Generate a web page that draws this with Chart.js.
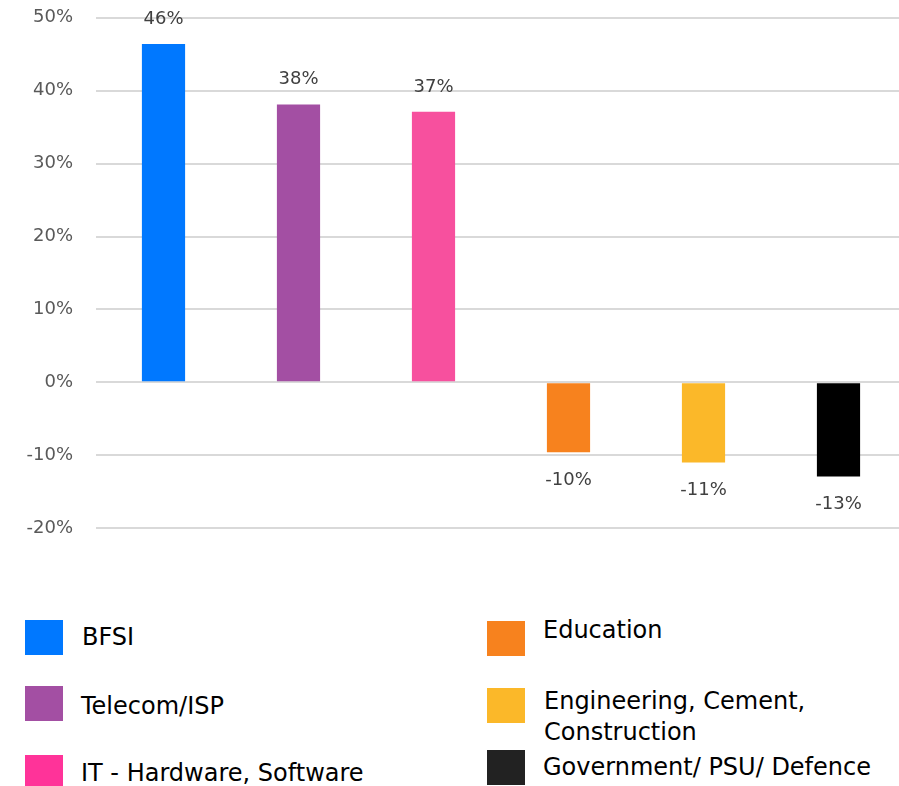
<!DOCTYPE html>
<html>
<head>
<meta charset="utf-8">
<script src="https://cdn.jsdelivr.net/npm/chart.js@4"></script>
<style>
    html, body { margin: 0; padding: 0; background: #fff; overflow: hidden; }
    #wrap { position: relative; width: 899px; height: 786px; overflow: hidden; }
    #chartBox { position: absolute; left: 0; top: -16px; width: 910px; height: 578px; }
    .leyenda { position: absolute; font-family: "DejaVu Sans", sans-serif; font-size: 24px; color: #000; line-height: 31px; }
    .leyenda .cuadro { position: absolute; left: 0; width: 38px; height: 35px; }
    .leyenda .texto { position: absolute; white-space: nowrap; }
</style>
</head>
<body>
<div id="wrap">
    <div id="chartBox"><canvas id="sectoresChart"></canvas></div>
</div>
<script>
// Datos del gráfico
const sectores = ["BFSI", "Telecom/ISP", "IT - Hardware, Software", "Education", "Engineering, Cement, Construction", "Government/ PSU/ Defence"];
const variacion = [46.4, 38.1, 37.1, -9.6, -11.0, -12.9];
const etiquetas = ["46%", "38%", "37%", "-10%", "-11%", "-13%"];
const coloresBarra = ["#0078FF", "#A34FA3", "#F7509E", "#F7821E", "#FBB829", "#000000"];
const coloresLeyenda = ["#0078FF", "#A34FA3", "#FF3399", "#F7821E", "#FBB829", "#222222"];
const ticksY = [-20, -10, 0, 10, 20, 30, 40, 50];

// Etiquetas de valor encima / debajo de cada barra
const etiquetasPlugin = {
    id: "etiquetas",
    afterDatasetsDraw(chart) {
        const ctx = chart.ctx;
        const meta = chart.getDatasetMeta(0);
        ctx.save();
        ctx.font = "18px 'DejaVu Sans'";
        ctx.fillStyle = "#404040";
        ctx.textAlign = "center";
        ctx.textBaseline = "middle";
        meta.data.forEach((bar, i) => {
            let y = variacion[i] >= 0 ? bar.y - 25 : bar.y + 28;
            ctx.fillText(etiquetas[i], bar.x, y);
        });
        ctx.restore();
    }
};

let ctx = document.getElementById("sectoresChart").getContext("2d");
let chart = new Chart(ctx, {
    type: "bar",
    data: {
        labels: sectores,
        datasets: [{
            data: variacion,
            backgroundColor: coloresBarra,
            borderWidth: 0,
            categoryPercentage: 1,
            barPercentage: 0.32
        }]
    },
    options: {
        responsive: true,
        maintainAspectRatio: false,
        animation: false,
        layout: { padding: { top: 8, right: 4, bottom: 17, left: 0 } },
        scales: {
            x: {
                grid: { display: false },
                border: { display: false },
                ticks: { display: false }
            },
            y: {
                min: ticksY[0],
                max: ticksY[ticksY.length - 1],
                afterBuildTicks: (scale) => { scale.ticks = ticksY.map(v => ({ value: v })); },
                afterFit: (scale) => { scale.width = 96; },
                grid: { color: "#d9d9d9", lineWidth: 2, drawTicks: false },
                border: { display: false },
                ticks: {
                    padding: 23,
                    color: "#595959",
                    font: { family: "DejaVu Sans", size: 18 },
                    callback: (v) => v + "%"
                }
            }
        },
        plugins: {
            legend: { display: false },
            tooltip: { enabled: false }
        }
    },
    plugins: [etiquetasPlugin]
});

// Leyenda en dos columnas
const posLeyenda = [
    { x: 25, y: 620, tx: 57, ty: 2 },
    { x: 25, y: 686, tx: 56, ty: 5 },
    { x: 25, y: 755, tx: 56, ty: 3 },
    { x: 487, y: 621, tx: 56, ty: -6 },
    { x: 487, y: 688, tx: 57, ty: -2 },
    { x: 487, y: 750, tx: 56, ty: 2 }
];
const wrap = document.getElementById("wrap");
sectores.forEach((s, i) => {
    let p = posLeyenda[i];
    let item = document.createElement("div");
    item.className = "leyenda";
    item.style.left = p.x + "px";
    item.style.top = p.y + "px";
    let texto = s === "Engineering, Cement, Construction" ? "Engineering, Cement,<br>Construction" : s;
    item.innerHTML = '<div class="cuadro" style="background:' + coloresLeyenda[i] + '"></div>' +
        '<div class="texto" style="left:' + p.tx + 'px;top:' + p.ty + 'px">' + texto + '</div>';
    wrap.appendChild(item);
});
</script>
</body>
</html>
